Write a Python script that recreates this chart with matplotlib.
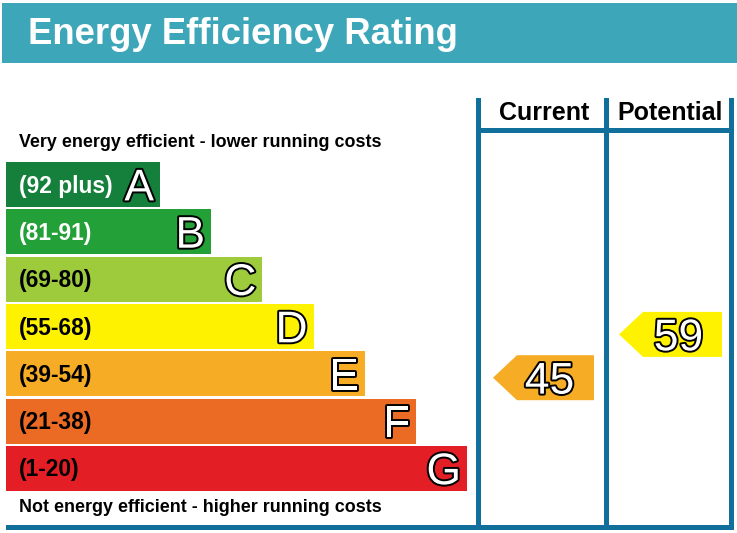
import matplotlib
matplotlib.use("Agg")
import matplotlib.pyplot as plt
from matplotlib.patches import Rectangle, Polygon
import matplotlib.patheffects as pe

# ---- data ----
bands = ["A", "B", "C", "D", "E", "F", "G"]
ranges = ["(92 plus)", "(81-91)", "(69-80)", "(55-68)", "(39-54)", "(21-38)", "(1-20)"]
lows = [92, 81, 69, 55, 39, 21, 1]
band_colors = ["#14803C", "#23A037", "#9DCB3C", "#FFF200", "#F6AC24", "#EC6B24", "#E31E25"]
label_colors = ["white", "white", "black", "black", "black", "black", "black"]
current_score = 45
potential_score = 59
title = "Energy Efficiency Rating"
top_note = "Very energy efficient - lower running costs"
bottom_note = "Not energy efficient - higher running costs"
col_headers = ["Current", "Potential"]

# ---- layout (pixels) ----
W, H = 737, 533
FONT = ["Liberation Sans", "DejaVu Sans"]
teal = "#3EA6B9"
line_c = "#10709B"
CAP = 0.716  # cap height / em


def cap_px(pt):
    return CAP * pt * 100 / 72


fig = plt.figure(figsize=(W / 100, H / 100), dpi=100)
ax = fig.add_axes([0, 0, 1, 1])
ax.set_xlim(0, W)
ax.set_ylim(H, 0)
ax.axis("off")

# header
ax.add_patch(Rectangle((2, 3), W - 2, 60, color=teal, lw=0))
ax.text(28, 44.5, title, color="white", fontsize=26.3, fontweight="bold",
        family=FONT, va="baseline", ha="left")

# notes
ax.text(19, 147, top_note, fontsize=12.9, fontweight="bold", family=FONT, va="baseline")
ax.text(19, 512, bottom_note, fontsize=12.9, fontweight="bold", family=FONT, va="baseline")

# bars
bar_left = 6
bar_top0 = 162
bar_pitch = 47.3
bar_h = 45
w0, dw = 154, 51.2
outline = [pe.withStroke(linewidth=2.8, foreground="black")]
centers = []
lab_fs = 16.4
let_fs = 32
for i, (b, r, c, lc) in enumerate(zip(bands, ranges, band_colors, label_colors)):
    y = bar_top0 + i * bar_pitch
    w = w0 + dw * i
    yc = y + bar_h / 2
    ax.barh(yc, w, height=bar_h, left=bar_left, color=c, lw=0)
    centers.append(yc)
    ax.text(19, yc + cap_px(lab_fs) / 2, r, color=lc, fontsize=lab_fs, fontweight="bold",
            family=FONT, va="baseline", ha="left")
    ax.text(bar_left + w - 6, yc + cap_px(let_fs) / 2, b, color="white", fontsize=let_fs,
            family=FONT, va="baseline", ha="right", path_effects=outline)

# table lines
lw = 5
col_x = [479, 607, 732]
ax.add_patch(Rectangle((col_x[0] - lw / 2, 128), col_x[2] - col_x[0] + lw, lw, color=line_c, lw=0))
ax.add_patch(Rectangle((bar_left, 525), col_x[2] + lw / 2 - bar_left, lw, color=line_c, lw=0))
for x in col_x:
    ax.add_patch(Rectangle((x - lw / 2, 98), lw, 530 - 98, color=line_c, lw=0))

hdr_fs = 18
for j, hdr in enumerate(col_headers):
    ax.text((col_x[j] + col_x[j + 1]) / 2 + 1, 120, hdr, fontsize=hdr_fs, fontweight="bold",
            family=FONT, va="baseline", ha="center")


def band_index(score):
    for i, lo in enumerate(lows):
        if score >= lo:
            return i
    return len(lows) - 1


num_fs = 32


def arrow(score, col, yoff, x0off, x1off, txoff):
    i = band_index(score)
    yc = centers[i] + yoff
    x0 = col_x[col] + x0off
    x1 = col_x[col + 1] - x1off
    tip = 24
    h = bar_h
    pts = [(x0, yc), (x0 + tip, yc - h / 2), (x1, yc - h / 2), (x1, yc + h / 2), (x0 + tip, yc + h / 2)]
    ax.add_patch(Polygon(pts, closed=True, color=band_colors[i], lw=0))
    ax.text((x0 + tip + x1) / 2 + txoff, yc + cap_px(num_fs) / 2, str(score), color="white",
            fontsize=num_fs, family=FONT, va="baseline", ha="center", path_effects=outline)


arrow(current_score, 0, 4, 14, 13, -6)
arrow(potential_score, 1, 8, 12, 10, -4)

fig.savefig("out.png", dpi=100, facecolor="white")
